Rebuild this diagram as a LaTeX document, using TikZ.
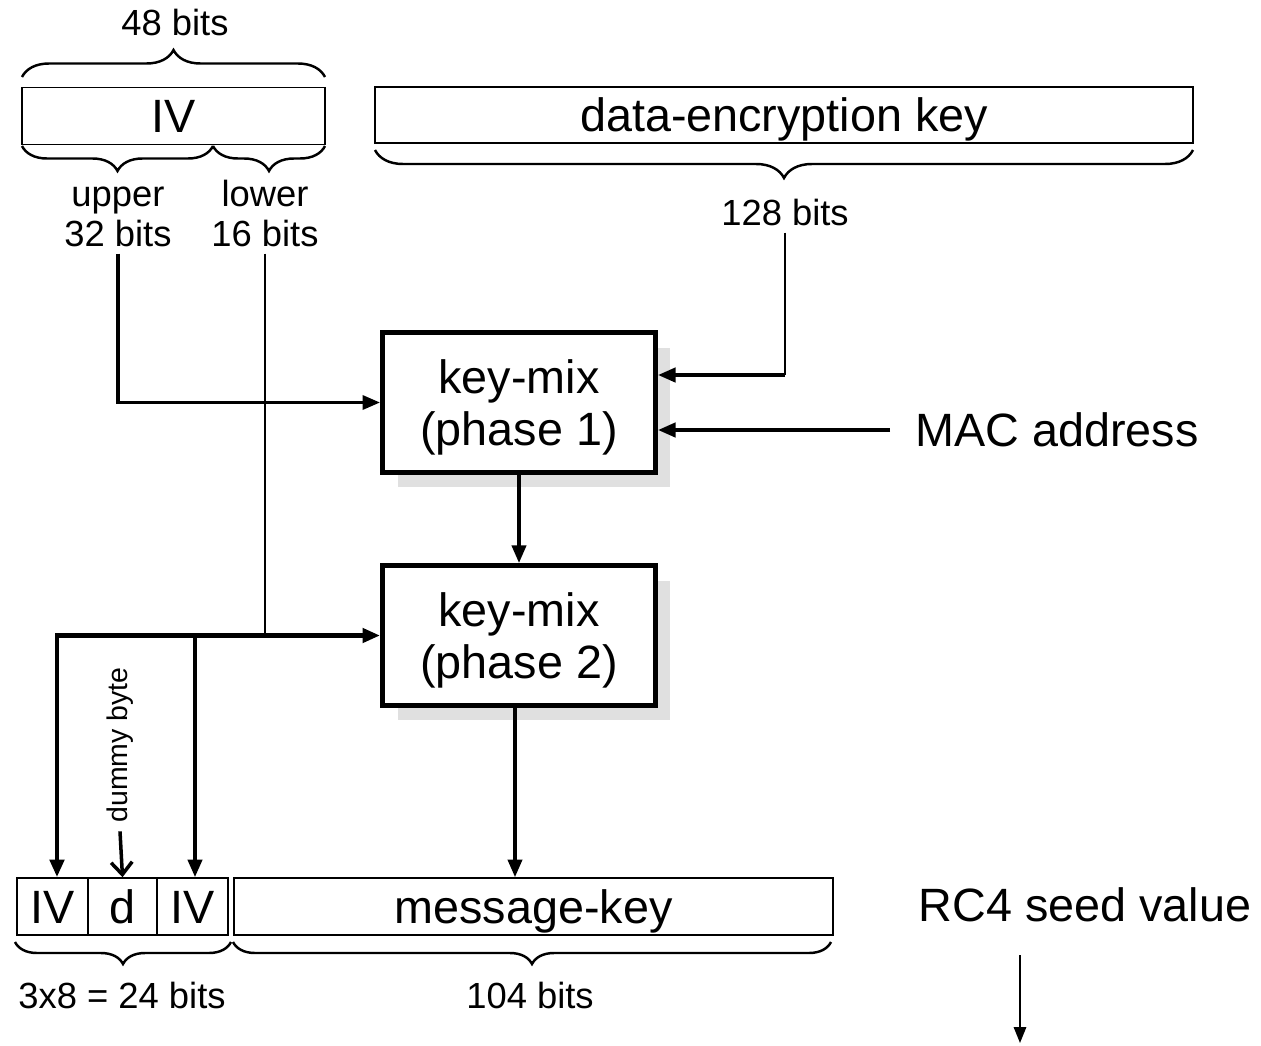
\documentclass[tikz,border=0pt]{standalone}
\usepackage{fontspec}
\setmainfont{Liberation Sans}
\usetikzlibrary{arrows.meta,decorations.pathreplacing,shadows}
\newcommand{\bigtxt}{\fontsize{26.6pt}{29.5pt}\selectfont}
\newcommand{\smalltxt}{\fontsize{20.7pt}{22.7pt}\selectfont}
\newcommand{\tinytxt}{\fontsize{16.2pt}{18pt}\selectfont}
\tikzset{
  field/.style={draw, line width=0.9pt, minimum height=1.14cm, inner sep=0pt, font=\bigtxt,
    text height=19pt, text depth=0pt},
  mixbox/.style={draw, line width=2.8pt, fill=white, minimum width=5.46cm, minimum height=2.8cm,
    align=center, font=\bigtxt, text height=48.5pt, text depth=0pt,
    general shadow={fill=black!12, shadow xshift=0.3cm, shadow yshift=-0.3cm}},
  lab/.style={font=\smalltxt, align=center, inner sep=4pt},
  brc/.style={decorate, decoration={brace, amplitude=#1}, line width=1.4pt},
  brc/.default=0.5cm,
  brcm/.style={decorate, decoration={brace, mirror, amplitude=#1}, line width=1.4pt},
  brcm/.default=0.5cm,
  tri/.style={-{Triangle[length=10pt,width=8pt]}},
  tritri/.style={{Triangle[length=10pt,width=8pt]}-{Triangle[length=10pt,width=8pt]}},
}

\begin{document}
\begin{tikzpicture}[x=0.02cm,y=-0.02cm]
\useasboundingbox (0,0) rectangle (1261,1045);
% keys at the top
\node[lab] (tot) at (175,22) {48 bits};
\node[field, minimum width=6.06cm] (ivtop) at (173.5,116) {IV};
\node[field, minimum width=16.36cm, minimum height=1.12cm] (dek) at (784,115) {data-encryption key};
\draw[brc=0.54cm] (22,77) -- (325,77);
\draw[brcm] (22,146) -- (213,146);
\draw[brcm] (213,146) -- (325,146);
\draw[brcm=0.56cm] (375,150) -- (1193,150);
\node[lab, anchor=base] (upl) at (118,246) {upper\\32 bits};
\node[lab, anchor=base] (lowl) at (265,246) {lower\\16 bits};
\node[lab] (kbits) at (785,212) {128 bits};
% key mixing
\node[mixbox] (p1) at (519,402.5) {key-mix\\(phase 1)};
\node[mixbox] (p2) at (519,635.5) {key-mix\\(phase 2)};
\node[font=\bigtxt, anchor=west, inner sep=0pt] (mac) at (915,430) {MAC address};
% seed
\node[field, minimum width=1.42cm] (iva) at (52.5,906.5) {IV};
\node[field, minimum width=1.38cm] (dd) at (122.5,906.5) {d};
\node[field, minimum width=1.42cm] (ivb) at (192.5,906.5) {IV};
\node[field, minimum width=11.98cm] (mkey) at (533.5,906.5) {message-key};
\node[font=\bigtxt] (rc4) at (1085,905) {RC4 seed value};
\node[font=\tinytxt, rotate=90, inner sep=2pt] (dum) at (120,745) {dummy byte};
\draw[brcm=0.44cm] (15,942) -- (231,942);
\draw[brcm=0.44cm] (233,942) -- (831,942);
\node[lab] (ebits) at (122,995) {3x8 = 24 bits};
\node[lab] (mbits) at (530,995) {104 bits};
% connections
\path ([yshift=0.55cm]p1.east) coordinate (kin);
\draw[line width=1.1pt] (kbits.south) -- (kbits.south |- kin);
\draw[tri, line width=2.2pt] (kbits.south |- kin) -- (kin);
\draw[tri, line width=2.2pt] ([xshift=-0.5cm]mac.west) -- (mac.west -| p1.east);
\draw[tri, line width=1.9pt] (upl.south) |- (p1.west);
\draw[tri, line width=2pt] (p1) -- (p2);
\draw[line width=1pt] (lowl.south) -- (lowl.south |- p2.west);
\draw[tritri, line width=2.6pt] ([xshift=0.09cm]iva.north) |- (p2.west);
\draw[tri, line width=2.2pt] ([xshift=0.05cm]ivb.north |- p2.west) -- ([xshift=0.05cm]ivb.north);
\draw[line width=2pt, -{Straight Barb[length=7pt,width=12pt]}] ([yshift=-0.1cm]dum.west) -- (dd.north);
\draw[tri, line width=2pt] ([xshift=-0.08cm]p2.south) -- ([xshift=-0.08cm]p2.south |- mkey.north);
\coordinate (seedtop) at (1020,955);
\coordinate (seedout) at (1020,1043);
\draw[line width=1pt, -{Triangle[length=9pt,width=7pt]}] (seedtop) -- (seedout);
\end{tikzpicture}
\end{document}
